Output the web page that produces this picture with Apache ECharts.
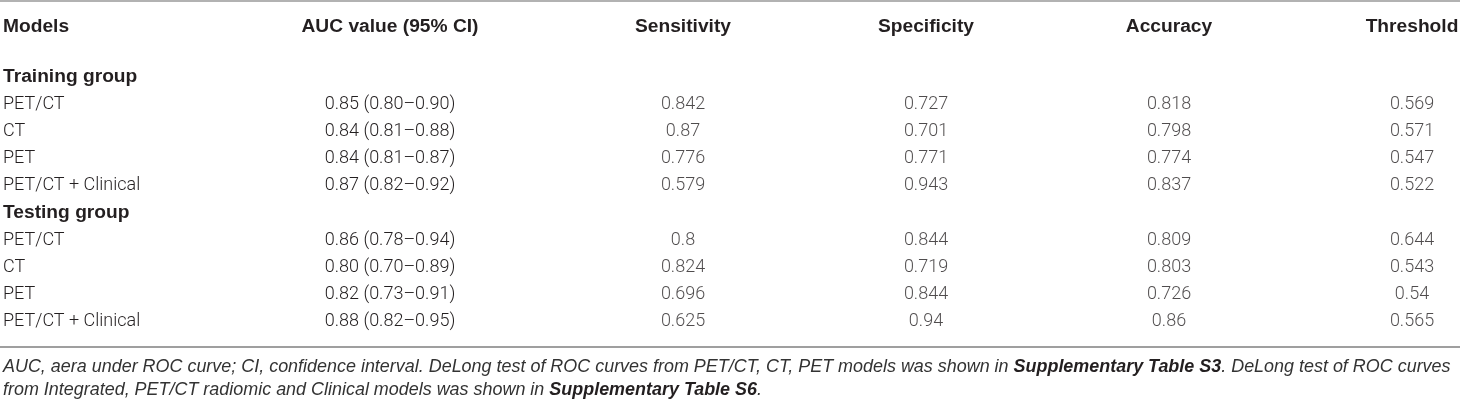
<!DOCTYPE html>
<html>
<head>
<meta charset="utf-8">
<script src="https://cdn.jsdelivr.net/npm/echarts@6/dist/echarts.min.js"></script>
<style>
html,body{margin:0;padding:0;background:#fff;}
#chart{width:1460px;height:404px;}
</style>
</head>
<body>
<div id="chart"></div>
<script>
// ---- data ----
const groups = ['Training group', 'Testing group'];
const models = ['PET/CT', 'CT', 'PET', 'PET/CT + Clinical'];
const metricHeaders = ['Sensitivity', 'Specificity', 'Accuracy', 'Threshold'];
const modelHeader = 'Models';
const aucHeader = 'AUC value (95% CI)';

const aucTrain = [0.85, 0.84, 0.84, 0.87];
const ciLowTrain = [0.80, 0.81, 0.81, 0.82];
const ciHighTrain = [0.90, 0.88, 0.87, 0.92];
const aucTest = [0.86, 0.80, 0.82, 0.88];
const ciLowTest = [0.78, 0.70, 0.73, 0.82];
const ciHighTest = [0.94, 0.89, 0.91, 0.95];

const sensitivityTrain = [0.842, 0.87, 0.776, 0.579];
const specificityTrain = [0.727, 0.701, 0.771, 0.943];
const accuracyTrain = [0.818, 0.798, 0.774, 0.837];
const thresholdTrain = [0.569, 0.571, 0.547, 0.522];
const sensitivityTest = [0.8, 0.824, 0.696, 0.625];
const specificityTest = [0.844, 0.719, 0.844, 0.94];
const accuracyTest = [0.809, 0.803, 0.726, 0.86];
const thresholdTest = [0.644, 0.543, 0.54, 0.565];

const footnoteLine1 = 'AUC, aera under ROC curve; CI, confidence interval. DeLong test of ROC curves from PET/CT, CT, PET models was shown in ';
const footnoteRef1 = 'Supplementary Table S3';
const footnoteLine1b = '. DeLong test of ROC curves';
const footnoteLine2 = 'from Integrated, PET/CT radiomic and Clinical models was shown in ';
const footnoteRef2 = 'Supplementary Table S6';

// ---- build table ----
const rows = [];
const isGroup = [];
const aucText = [];
const cells = [];
const fmt = v => v.toFixed(2);
function addGroup(name, auc, lo, hi, metrics) {
  rows.push(name); isGroup.push(true); aucText.push('');
  models.forEach((m, i) => {
    const r = rows.length;
    rows.push(m); isGroup.push(false);
    aucText.push(fmt(auc[i]) + ' (' + fmt(lo[i]) + '–' + fmt(hi[i]) + ')');
    metrics.forEach((arr, c) => cells.push([c, r, arr[i]]));
  });
}
addGroup(groups[0], aucTrain, ciLowTrain, ciHighTrain, [sensitivityTrain, specificityTrain, accuracyTrain, thresholdTrain]);
addGroup(groups[1], aucTest, ciLowTest, ciHighTest, [sensitivityTest, specificityTest, accuracyTest, thresholdTest]);

const TXT = '#231f20';
const BODY = {fontFamily: 'Roboto', fontWeight: 300, fontSize: 18, color: TXT};
const HEAD = {fontFamily: 'Liberation Sans', fontWeight: 'bold', fontSize: 19.2, color: TXT};
const RULE = {color: '#999', width: 1.6};
const FN = 17.95;

const gridTop = 63.4, gridBottom = 68.4, gridLeft = 561.5, gridWidth = 972;
const hdrGap = 36.4;

const chart = echarts.init(document.getElementById('chart'), null, {renderer: 'canvas'});
chart.setOption({
  animation: false,
  backgroundColor: '#fff',
  title: {
    left: 3, top: 356, padding: 0,
    text: '{i|' + footnoteLine1 + '}{b|' + footnoteRef1 + '}{i|' + footnoteLine1b + '}\n{i|' + footnoteLine2 + '}{b|' + footnoteRef2 + '}{i|.}',
    textStyle: {
      fontFamily: 'Liberation Sans', fontStyle: 'italic', fontWeight: 'normal', fontSize: FN, color: TXT, lineHeight: 23,
      rich: {
        i: {fontFamily: 'Liberation Sans', fontStyle: 'italic', fontWeight: 'normal', fontSize: FN, color: '#333', lineHeight: 23},
        b: {fontFamily: 'Liberation Sans', fontStyle: 'italic', fontWeight: 'bold', fontSize: FN, color: TXT, lineHeight: 23}
      }
    }
  },
  grid: [
    {left: gridLeft, width: gridWidth, top: gridTop, bottom: gridBottom, containLabel: false, outerBoundsMode: 'none'},
    {left: 0, right: 0, top: 51, bottom: 57, containLabel: false, outerBoundsMode: 'none'}
  ],
  xAxis: [
    {
      gridIndex: 0, type: 'category', data: metricHeaders, position: 'top',
      axisLine: {show: false}, axisTick: {show: false}, splitLine: {show: false},
      axisLabel: Object.assign({interval: 0, margin: hdrGap, verticalAlign: 'middle', hideOverlap: false}, HEAD)
    },
    {gridIndex: 1, type: 'value', min: 0, max: 1, position: 'top', axisLine: {show: true, lineStyle: RULE},
     axisTick: {show: false}, axisLabel: {show: false}, splitLine: {show: false}},
    {gridIndex: 1, type: 'value', min: 0, max: 1, position: 'top', offset: 50, axisLine: {show: true, lineStyle: RULE},
     axisTick: {show: false}, axisLabel: {show: false}, splitLine: {show: false}},
    {gridIndex: 1, type: 'value', min: 0, max: 1, position: 'bottom', axisLine: {show: true, lineStyle: RULE},
     axisTick: {show: false}, axisLabel: {show: false}, splitLine: {show: false}}
  ],
  yAxis: [
    {
      gridIndex: 0, type: 'category', data: rows, inverse: true, position: 'left', offset: gridLeft - 3,
      axisLine: {show: false}, axisTick: {show: false}, splitLine: {show: false},
      name: modelHeader, nameLocation: 'start', nameGap: hdrGap,
      nameTextStyle: Object.assign({align: 'left', verticalAlign: 'middle'}, HEAD),
      axisLabel: {
        interval: 0, margin: 0, align: 'left',
        formatter: (v, i) => (isGroup[i] ? '{g|' : '{n|') + v + '}',
        rich: {g: Object.assign({}, HEAD), n: Object.assign({}, BODY)}
      }
    },
    {
      gridIndex: 0, type: 'category', data: rows, inverse: true, position: 'left', offset: gridLeft - 390,
      axisLine: {show: false}, axisTick: {show: false}, splitLine: {show: false},
      name: aucHeader, nameLocation: 'start', nameGap: hdrGap,
      nameTextStyle: Object.assign({align: 'center', verticalAlign: 'middle'}, HEAD),
      axisLabel: Object.assign({interval: 0, margin: 0, align: 'center', formatter: (v, i) => aucText[i]}, BODY)
    },
    {gridIndex: 1, type: 'value', show: false, min: 0, max: 1}
  ],
  series: [{
    type: 'scatter', xAxisIndex: 0, yAxisIndex: 0, data: cells,
    symbolSize: 1, itemStyle: {color: 'rgba(0,0,0,0)'}, silent: true,
    emphasis: {disabled: true},
    label: Object.assign({show: true, position: 'inside', formatter: p => String(p.value[2])}, BODY)
  }]
});
</script>
</body>
</html>
